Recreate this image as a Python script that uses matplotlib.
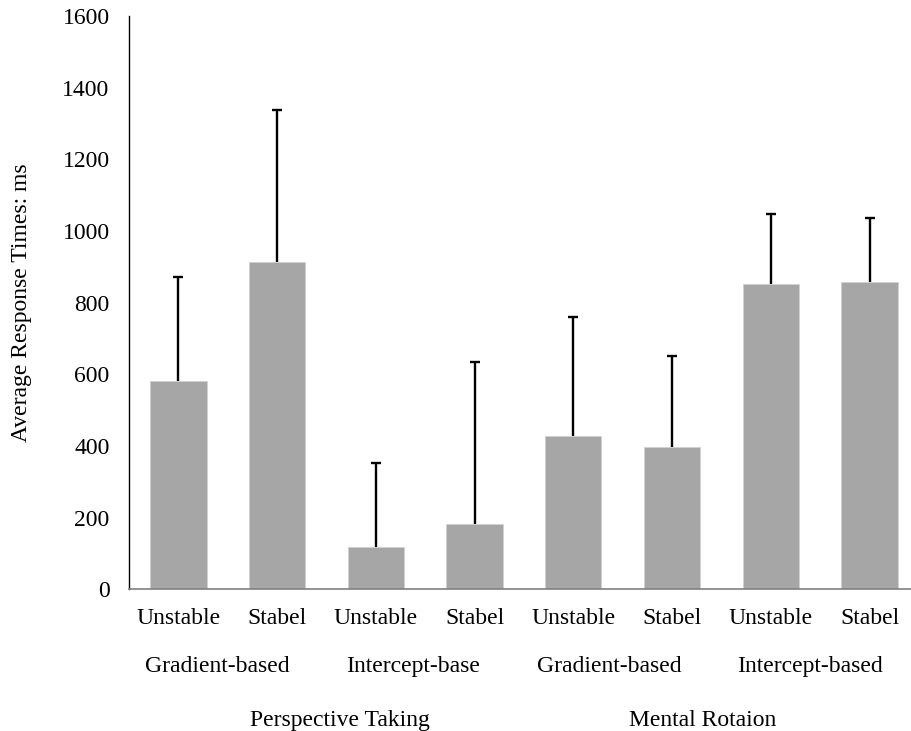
import numpy as np
import matplotlib.pyplot as plt

plt.rcParams['font.family'] = ['Liberation Serif', 'DejaVu Serif']

## conditions, left to right
conditions = ['Unstable', 'Stabel'] * 4
methods = ['Gradient-based', 'Intercept-base', 'Gradient-based', 'Intercept-based']
tasks = ['Perspective Taking', 'Mental Rotaion']

## mean response times and upper error (ms)
mean_rt = [581, 914, 118, 183, 427, 398, 852, 857]
err_rt = [291, 423, 235, 452, 332, 253, 195, 178]

x = np.arange(len(mean_rt))
FS = 17

fig = plt.figure(figsize=(9.11, 7.31), dpi=100)
ax = fig.add_axes([0.1416, 0.1936, 0.8584, 0.7846])

ax.bar(x, mean_rt, width=0.57, color='#a6a6a6', edgecolor='#d0d0d0', linewidth=0.6, zorder=2)
eb = ax.errorbar(x, mean_rt, yerr=[np.zeros(len(err_rt)), err_rt], fmt='none',
                 ecolor='black', elinewidth=1.7, capsize=3.5, capthick=1.7, zorder=3)
# only the upper cap is wanted
eb[1][0].set_visible(False)

ax.set_xlim(-0.5, 7.42)
ax.set_ylim(0, 1600)
ax.set_yticks(np.arange(0, 1601, 200))
ax.tick_params(axis='y', length=0, labelsize=FS, pad=14)
ax.tick_params(axis='x', length=0, labelsize=FS, pad=13)
ax.set_xticks(x)
ax.set_xticklabels(conditions)

ax.spines['top'].set_visible(False)
ax.spines['right'].set_visible(False)
ax.spines['left'].set_linewidth(1.0)
ax.spines['bottom'].set_color('#808080')
ax.spines['bottom'].set_linewidth(1.2)

ax.set_ylabel('Average Response Times: ms', fontsize=FS, labelpad=22)

## second and third rows of category labels
method_x = [0.39, 2.38, 4.36, 6.40]
for xm, name in zip(method_x, methods):
    ax.text(xm, -0.135, name, transform=ax.get_xaxis_transform(),
            ha='center', va='center', fontsize=FS)

task_x = [1.64, 5.31]
for xt, name in zip(task_x, tasks):
    ax.text(xt, -0.228, name, transform=ax.get_xaxis_transform(),
            ha='center', va='center', fontsize=FS)

fig.savefig('out.png', dpi=100)
